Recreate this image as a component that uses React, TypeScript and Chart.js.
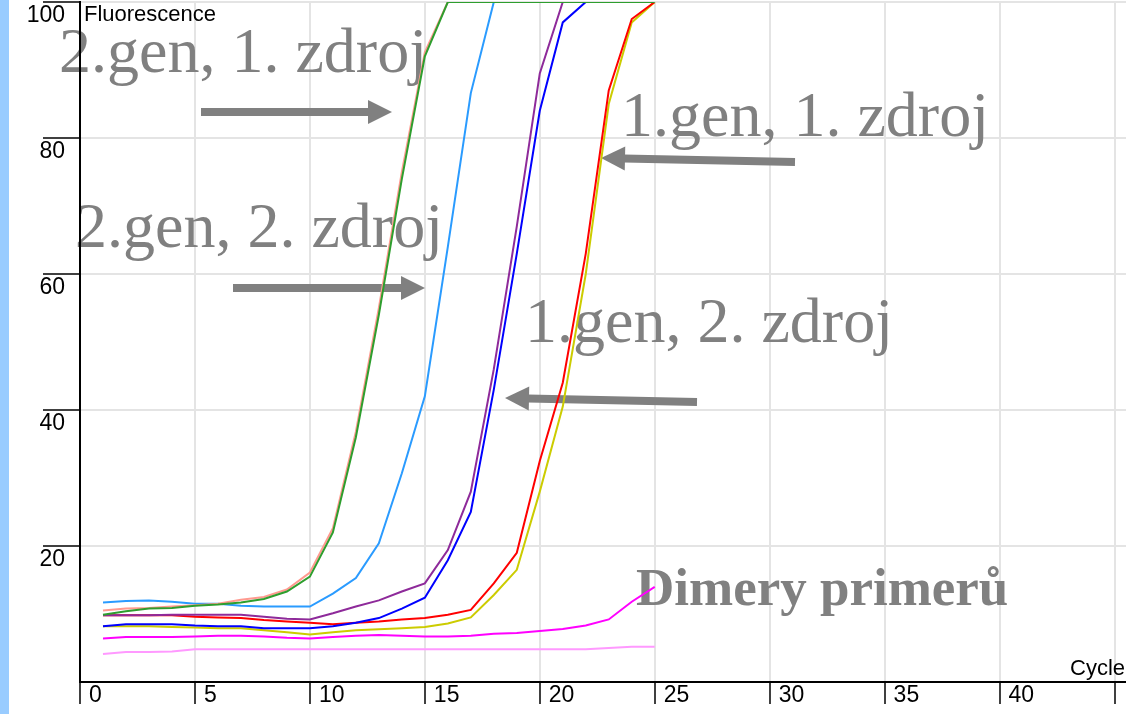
import { useEffect, useRef } from 'react';
import { Chart, registerables } from 'chart.js';

Chart.register(...registerables);

const cycles = [1, 2, 3, 4, 5, 6, 7, 8, 9, 10, 11, 12, 13, 14, 15, 16, 17, 18, 19, 20, 21, 22, 23, 24, 25];

const gen2src1Green = [9.9, 10.4, 10.8, 10.9, 11.2, 11.4, 11.7, 12.2, 13.3, 15.5, 22, 36, 54, 74, 92, 100, 100, 100, 100, 100, 100, 100, 100, 100, 100];
const gen2src1Salmon = [10.5, 10.8, 10.9, 11.1, 11.3, 11.5, 12.1, 12.5, 13.6, 16.1, 22.6, 36.8, 55, 75, 92.6, 100, 100, 100, 100, 100, 100, 100, 100, 100, 100];
const gen2src2LightBlue = [11.7, 11.9, 12.0, 11.8, 11.5, 11.5, 11.2, 11.1, 11.1, 11.1, 13.0, 15.3, 20.4, 30.7, 42, 64, 86.6, 100, 100, 100, 100, 100, 100, 100, 100];
const gen1src2Purple = [9.8, 9.8, 9.8, 9.9, 9.9, 9.9, 9.9, 9.6, 9.3, 9.2, 10.1, 11.1, 12.0, 13.3, 14.5, 19.4, 28, 46, 67, 89.5, 100, 100, 100, 100, 100];
const gen1src2Blue = [8.2, 8.5, 8.5, 8.5, 8.3, 8.2, 8.2, 7.9, 7.9, 7.9, 8.2, 8.7, 9.4, 10.8, 12.4, 17.9, 25, 43, 63, 84, 97, 100, 100, 100, 100];
const gen1src1Red = [9.8, 9.8, 9.8, 9.8, 9.6, 9.5, 9.4, 9.1, 8.9, 8.7, 8.5, 8.7, 8.9, 9.2, 9.4, 9.9, 10.6, 14.5, 19, 32.5, 44, 63, 87, 97.5, 100];
const gen1src1Yellow = [8.2, 8.2, 8.2, 8.1, 8.0, 7.9, 7.9, 7.6, 7.3, 7.0, 7.3, 7.6, 7.75, 7.9, 8.1, 8.6, 9.5, 12.8, 16.5, 28, 40.5, 60, 85, 97, 100];
const dimerMagenta = [6.4, 6.6, 6.6, 6.6, 6.7, 6.8, 6.8, 6.7, 6.5, 6.4, 6.6, 6.8, 6.9, 6.8, 6.7, 6.7, 6.8, 7.1, 7.2, 7.5, 7.8, 8.3, 9.2, 11.8, 14.0];
const dimerLightPink = [4.1, 4.4, 4.4, 4.5, 4.8, 4.8, 4.8, 4.8, 4.8, 4.8, 4.8, 4.8, 4.8, 4.8, 4.8, 4.8, 4.8, 4.8, 4.8, 4.8, 4.8, 4.8, 5.0, 5.2, 5.2];

const xTicks = [0, 5, 10, 15, 20, 25, 30, 35, 40, 45];
const yTicks = [0, 20, 40, 60, 80, 100];

const labels2gen1 = '2.gen, 1. zdroj';
const labels2gen2 = '2.gen, 2. zdroj';
const labels1gen1 = '1.gen, 1. zdroj';
const labels1gen2 = '1.gen, 2. zdroj';
const labelDimer = 'Dimery primerů';
const yTitle = 'Fluorescence';
const xTitle = 'Cycle';

function drawArrow(ctx: CanvasRenderingContext2D, x1: number, y1: number, x2: number, y2: number) {
  const ang = Math.atan2(y2 - y1, x2 - x1);
  const headLen = 24;
  const headHalf = 12;
  const bx = x2 - Math.cos(ang) * headLen;
  const by = y2 - Math.sin(ang) * headLen;
  ctx.save();
  ctx.strokeStyle = '#808080';
  ctx.fillStyle = '#808080';
  ctx.lineWidth = 8;
  ctx.lineCap = 'butt';
  ctx.beginPath();
  ctx.moveTo(x1, y1);
  ctx.lineTo(bx + Math.cos(ang), by + Math.sin(ang));
  ctx.stroke();
  ctx.beginPath();
  ctx.moveTo(x2, y2);
  ctx.lineTo(bx - Math.sin(ang) * headHalf, by + Math.cos(ang) * headHalf);
  ctx.lineTo(bx + Math.sin(ang) * headHalf, by - Math.cos(ang) * headHalf);
  ctx.closePath();
  ctx.fill();
  ctx.restore();
}

export default function App() {
  const ref = useRef<HTMLCanvasElement>(null);

  useEffect(() => {
    document.body.style.margin = '0';
    const canvas = ref.current;
    if (!canvas) return;

    const mk = (label: string, data: number[], color: string) => ({
      label,
      data: cycles.map((c, i) => ({ x: c, y: data[i] })),
      borderColor: color,
      backgroundColor: color,
      borderWidth: 2,
      pointRadius: 0,
      tension: 0,
      fill: false,
    });

    const overlay = {
      id: 'overlay',
      beforeDraw(chart: any) {
        const ctx: CanvasRenderingContext2D = chart.ctx;
        ctx.save();
        ctx.fillStyle = '#ffffff';
        ctx.fillRect(0, 0, chart.width, chart.height);
        ctx.fillStyle = '#99ccff';
        ctx.fillRect(0, 0, 9, chart.height);
        ctx.restore();
      },
      beforeDatasetsDraw(chart: any) {
        const ctx: CanvasRenderingContext2D = chart.ctx;
        const area = chart.chartArea;
        ctx.save();
        ctx.fillStyle = '#000000';
        ctx.font = '22px "Liberation Sans", Arial, sans-serif';
        ctx.textBaseline = 'alphabetic';
        ctx.textAlign = 'left';
        ctx.fillText(yTitle, 84, 21);
        ctx.textAlign = 'right';
        ctx.fillText(xTitle, 1125, 675);

        ctx.fillStyle = '#808080';
        ctx.textAlign = 'left';
        ctx.font = '64px "Liberation Serif", "Times New Roman", serif';
        ctx.fillText(labels2gen1, 59, 72);
        ctx.fillText(labels2gen2, 75, 247);
        ctx.fillText(labels1gen1, 621, 136);
        ctx.fillText(labels1gen2, 525, 342);
        ctx.font = 'bold 53px "Liberation Serif", "Times New Roman", serif';
        ctx.fillText(labelDimer, 636, 605);

        drawArrow(ctx, 201, 112, 392, 112);
        drawArrow(ctx, 233, 288, 425, 288);
        drawArrow(ctx, 795, 162, 601, 158);
        drawArrow(ctx, 697, 402, 505, 398);

        // keep the value axis line visible above the overlaid label
        ctx.strokeStyle = '#000';
        ctx.lineWidth = 2;
        ctx.beginPath();
        ctx.moveTo(area.left, area.top);
        ctx.lineTo(area.left, area.bottom);
        ctx.stroke();
        ctx.restore();
      },
    };

    const tickFont = { family: '"Liberation Sans", Arial, sans-serif', size: 23 };

    const chart = new Chart(canvas, {
      type: 'line',
      data: {
        datasets: [
          mk('green', gen2src1Green, '#2e9e2e'),
          mk('salmon', gen2src1Salmon, '#ff9a90'),
          mk('purple', gen1src2Purple, '#8e2a9a'),
          mk('blue', gen1src2Blue, '#0000ff'),
          mk('lightblue', gen2src2LightBlue, '#2a9bff'),
          mk('red', gen1src1Red, '#ff0000'),
          mk('yellow', gen1src1Yellow, '#cccc00'),
          mk('magenta', dimerMagenta, '#ff00ff'),
          mk('lightpink', dimerLightPink, '#ff99ff'),
        ],
      },
      options: {
        responsive: false,
        animation: false,
        devicePixelRatio: 1,
        layout: { padding: { top: 2, right: 0, left: 0, bottom: 0 } },
        plugins: { legend: { display: false }, tooltip: { enabled: false } },
        scales: {
          x: {
            type: 'linear',
            min: 0,
            max: 45.5,
            afterBuildTicks: (s: any) => {
              s.ticks = xTicks.map((v) => ({ value: v }));
            },
            afterFit: (s: any) => {
              s.height = 32;
            },
            ticks: {
              autoSkip: false,
              maxRotation: 0,
              minRotation: 0,
              align: 'start',
              labelOffset: 9,
              padding: -22.5,
              color: '#000',
              font: tickFont,
              callback: (v: any) => (v === 45 ? '' : String(v)),
            },
            grid: {
              color: '#e4e4e4',
              lineWidth: 2,
              tickColor: '#000',
              tickLength: 22,
              tickWidth: 1.5,
            },
            border: { color: '#000', width: 2 },
          },
          y: {
            type: 'linear',
            min: 0,
            max: 100,
            afterBuildTicks: (s: any) => {
              s.ticks = yTicks.map((v) => ({ value: v }));
            },
            afterFit: (s: any) => {
              s.width = 80;
            },
            ticks: {
              labelOffset: 13.5,
              padding: -22,
              color: '#000',
              font: tickFont,
              callback: (v: any) => (v === 0 ? '' : String(v)),
            },
            grid: {
              color: (c: any) => (c.tick && c.tick.value === 0 ? 'rgba(0,0,0,0)' : '#e4e4e4'),
              lineWidth: 2,
              tickColor: (c: any) => (c.tick && c.tick.value === 0 ? 'rgba(0,0,0,0)' : '#000'),
              tickLength: 37,
              tickWidth: 1.5,
            },
            border: { color: '#000', width: 2 },
          },
        },
      },
      plugins: [overlay],
    } as any);

    return () => chart.destroy();
  }, []);

  return (
    <div style={{ position: 'fixed', left: 0, top: 0, width: 1126, height: 714, background: '#fff' }}>
      <canvas ref={ref} width={1126} height={714} style={{ display: 'block' }} />
    </div>
  );
}
